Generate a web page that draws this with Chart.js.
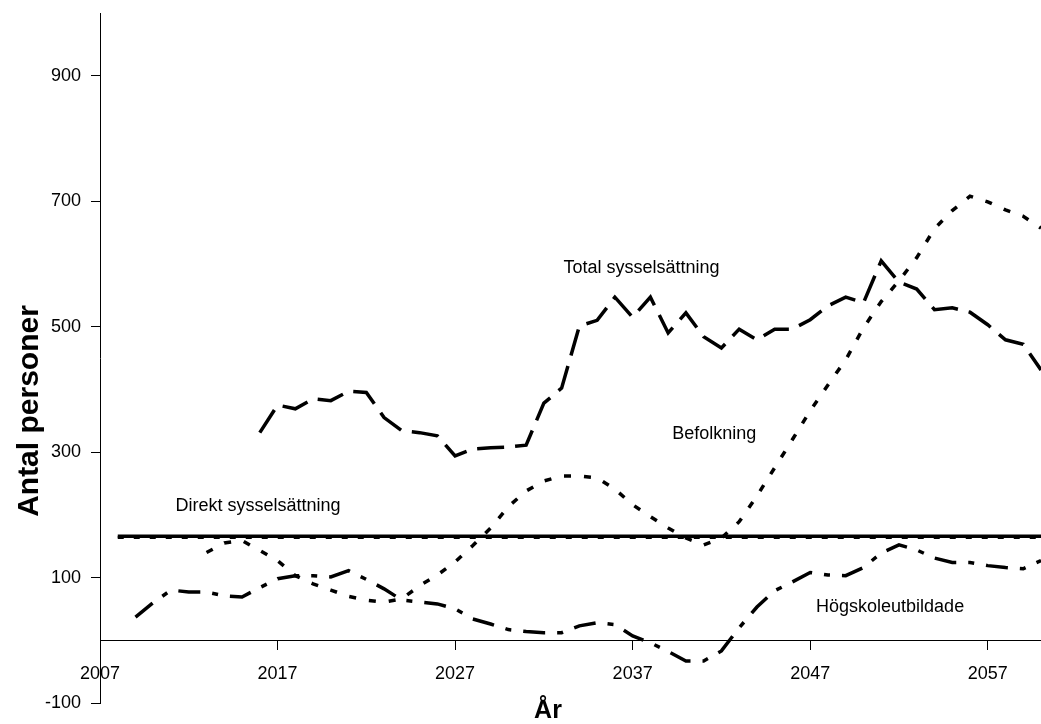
<!DOCTYPE html>
<html>
<head>
<meta charset="utf-8">
<script src="https://cdn.jsdelivr.net/npm/chart.js@4.4.1/dist/chart.umd.min.js"></script>
<style>
  html, body { margin: 0; padding: 0; background: #ffffff; }
  #wrap { width: 1041px; height: 724px; }
</style>
</head>
<body>
<div id="wrap"><canvas id="chartCanvas" width="1041" height="724"></canvas></div>
<script>
// Årtal (x-axeln)
const years = [
  2007, 2008, 2009, 2010, 2011, 2012, 2013, 2014, 2015, 2016,
  2017, 2018, 2019, 2020, 2021, 2022, 2023, 2024, 2025, 2026,
  2027, 2028, 2029, 2030, 2031, 2032, 2033, 2034, 2035, 2036,
  2037, 2038, 2039, 2040, 2041, 2042, 2043, 2044, 2045, 2046,
  2047, 2048, 2049, 2050, 2051, 2052, 2053, 2054, 2055, 2056,
  2057, 2058, 2059, 2060
];

// Antal personer per år, null = inget värde
const totalSysselsattning = [
  null, null, null, null, null, null, null, null, null, 331,
  375, 369, 385, 382, 397, 395, 355, 334, 331, 326,
  294, 305, 307, 308, 311, 378, 402, 501, 510, 547,
  515, 547, 490, 522, 484, 466, 496, 479, 496, 496,
  511, 533, 547, 538, 605, 571, 560, 527, 530, 523,
  503, 479, 472, 431
];

const befolkning = [
  null, null, null, null, null, null, 140, 155, 159, 143,
  127, 103, 90, 80, 70, 64, 61, 66, 87, 104,
  125, 151, 179, 213, 238, 254, 262, 262, 259, 241,
  216, 197, 179, 163, 152, 163, 189, 230, 275, 320,
  366, 407, 447, 498, 540, 573, 610, 656, 685, 708,
  699, 686, 676, 657
];

const hogskoleutbildade = [
  null, null, 37, 60, 80, 77, 77, 71, 69, 84,
  98, 103, 103, 101, 111, 97, 82, 64, 61, 58,
  50, 34, 26, 17, 14, 12, 12, 23, 28, 25,
  7, -4, -18, -33, -33, -17, 20, 53, 79, 93,
  108, 104, 103, 116, 139, 152, 144, 131, 124, 124,
  119, 116, 114, 127
];

const direktSysselsattning = [
  null, 166, 166, 166, 166, 166, 166, 166, 166, 166,
  166, 166, 166, 166, 166, 166, 166, 166, 166, 166,
  166, 166, 166, 166, 166, 166, 166, 166, 166, 166,
  166, 166, 166, 166, 166, 166, 166, 166, 166, 166,
  166, 166, 166, 166, 166, 166, 166, 166, 166, 166,
  166, 166, 166, 166
];

const direktSysselsattning2 = [
  null, 164, 164, 164, 164, 164, 164, 164, 164, 164,
  164, 164, 164, 164, 164, 164, 164, 164, 164, 164,
  164, 164, 164, 164, 164, 164, 164, 164, 164, 164,
  164, 164, 164, 164, 164, 164, 164, 164, 164, 164,
  164, 164, 164, 164, 164, 164, 164, 164, 164, 164,
  164, 164, 164, 164
];

// Axelns skalsteg
const xTicks = [2007, 2017, 2027, 2037, 2047, 2057];
const yTicks = [-100, 100, 300, 500, 700, 900];

// Etiketter i diagrammet (placerade i datakoordinater)
const seriesLabels = [
  { text: 'Total sysselsättning', year: 2037.5, value: 594 },
  { text: 'Befolkning', year: 2041.6, value: 328 },
  { text: 'Direkt sysselsättning', year: 2015.9, value: 214 },
  { text: 'Högskoleutbildade', year: 2051.5, value: 53 }
];

const FONT = "'Liberation Sans', Arial, sans-serif";

// bygg {x,y}-punkter och hoppa över tomma år
function toPoints(values) {
  const pts = [];
  values.forEach((v, i) => {
    if (v !== null) pts.push({ x: years[i], y: v });
  });
  return pts;
}

const textPlugin = {
  id: 'textPlugin',
  afterDatasetsDraw(chart) {
    const ctx = chart.ctx;
    const xs = chart.scales.x;
    const ys = chart.scales.y;
    ctx.save();
    ctx.fillStyle = '#000';
    ctx.textAlign = 'center';
    ctx.textBaseline = 'middle';
    ctx.font = '18px ' + FONT;
    seriesLabels.forEach(l => {
      ctx.fillText(l.text, xs.getPixelForValue(l.year), ys.getPixelForValue(l.value));
    });

    // axeltitlar
    ctx.font = 'bold 25px ' + FONT;
    ctx.fillText('År', 548, 711);
    ctx.font = 'bold 30px ' + FONT;
    ctx.translate(30, 411);
    ctx.rotate(-Math.PI / 2);
    ctx.fillText('Antal personer', 0, 0);
    ctx.restore();
  }
};

const lineBase = {
  borderColor: '#000',
  backgroundColor: '#000',
  borderWidth: 3.5,
  pointRadius: 0,
  tension: 0,
  fill: false,
  borderCapStyle: 'butt'
};

const ctx = document.getElementById('chartCanvas').getContext('2d');
const chart = new Chart(ctx, {
  type: 'line',
  data: {
    datasets: [
      Object.assign({}, lineBase, {
        label: 'Direkt sysselsättning (2)',
        data: toPoints(direktSysselsattning2),
        borderWidth: 3,
        borderDash: [6, 10]
      }),
      Object.assign({}, lineBase, {
        label: 'Direkt sysselsättning',
        data: toPoints(direktSysselsattning),
        borderWidth: 3.5
      }),
      Object.assign({}, lineBase, {
        label: 'Högskoleutbildade',
        data: toPoints(hogskoleutbildade),
        borderDash: [22, 12, 6, 12]
      }),
      Object.assign({}, lineBase, {
        label: 'Befolkning',
        data: toPoints(befolkning),
        borderDash: [7, 13]
      }),
      Object.assign({}, lineBase, {
        label: 'Total sysselsättning',
        data: toPoints(totalSysselsattning),
        borderDash: [27, 11]
      })
    ]
  },
  options: {
    responsive: false,
    animation: false,
    layout: { padding: { top: 13, bottom: 21, left: 0, right: 0 } },
    plugins: {
      legend: { display: false },
      tooltip: { enabled: false }
    },
    scales: {
      x: {
        type: 'linear',
        position: { y: 0 },
        min: 2007,
        max: 2060,
        afterBuildTicks: (scale) => { scale.ticks = xTicks.map(v => ({ value: v })); },
        ticks: {
          callback: (v) => String(v),
          color: '#000',
          font: { family: FONT, size: 18 },
          padding: 14,
          maxRotation: 0,
          autoSkip: false
        },
        grid: { drawOnChartArea: false, drawTicks: true, tickLength: 9, color: '#000', lineWidth: 1 },
        border: { display: true, color: '#000', width: 1 }
      },
      y: {
        type: 'linear',
        position: 'left',
        min: -100,
        max: 1000,
        afterBuildTicks: (scale) => { scale.ticks = yTicks.map(v => ({ value: v })); },
        afterFit: (scale) => {
          scale.width = 100;
          // etiketterna ligger inte vid kanterna, så ingen extra marginal behövs
          scale.paddingTop = 0;
          scale.paddingBottom = 0;
        },
        ticks: {
          callback: (v) => String(v),
          color: '#000',
          font: { family: FONT, size: 18 },
          padding: 10
        },
        grid: { drawOnChartArea: false, drawTicks: true, tickLength: 9, color: '#000', lineWidth: 1 },
        border: { display: true, color: '#000', width: 1 }
      }
    }
  },
  plugins: [textPlugin]
});
</script>
</body>
</html>
